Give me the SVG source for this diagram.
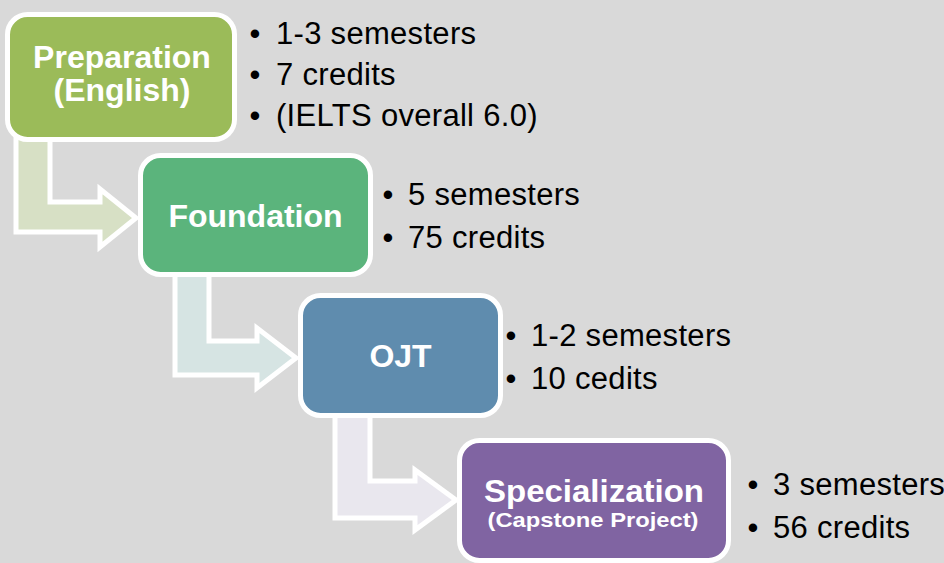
<svg xmlns="http://www.w3.org/2000/svg" width="944" height="563" viewBox="0 0 944 563">
<style>
.box{stroke:#ffffff;stroke-width:5}
.arr{stroke:#ffffff;stroke-width:5;stroke-linejoin:miter}
.t{font-family:"Liberation Sans",Arial,sans-serif;font-weight:bold;font-size:32px;fill:#ffffff;text-anchor:middle}
.s{font-family:"Liberation Sans",Arial,sans-serif;font-weight:bold;font-size:21px;fill:#ffffff;text-anchor:middle}
.b{font-family:"Liberation Sans",Arial,sans-serif;font-size:31px;fill:#000000;letter-spacing:0.3px}
.d{font-family:"Liberation Sans",Arial,sans-serif;font-size:31px;fill:#000000;text-anchor:middle}
</style>
<rect x="0" y="0" width="944" height="563" fill="#d9d9d9"/>
<g id="connectors">
<path class="arr" fill="#d7e0c5" d="M16,130 L50,130 L50,202 L100,202 L100,189 L136,218 L100,247 L100,232 L16,232 Z"/>
<path class="arr" fill="#d6e4e3" d="M175,270 L209,270 L209,341 L257,341 L257,328 L296,358 L257,388 L257,375 L175,375 Z"/>
<path class="arr" fill="#e9e7ee" d="M335,410 L370,410 L370,481 L415,481 L415,470 L456,500 L415,530 L415,518 L335,518 Z"/>
</g>
<g id="preparation">
<rect class="box" x="7.5" y="14.5" width="227" height="125" rx="20" fill="#9bbb59"/>
<text class="t" x="122" y="68">Preparation</text>
<text class="t" x="122" y="101">(English)</text>
</g>
<g id="foundation">
<rect class="box" x="140.5" y="155.5" width="230" height="119" rx="20" fill="#5bb47c"/>
<text class="t" x="255.5" y="227">Foundation</text>
</g>
<g id="ojt">
<rect class="box" x="300.5" y="295.5" width="200" height="120" rx="20" fill="#5f8cae"/>
<text class="t" x="400.5" y="367">OJT</text>
</g>
<g id="specialization">
<rect class="box" x="459.5" y="440.5" width="269" height="120" rx="20" fill="#8064a2"/>
<text class="t" x="594" y="502" textLength="220" lengthAdjust="spacingAndGlyphs">Specialization</text>
<text class="s" x="593" y="527" textLength="211" lengthAdjust="spacingAndGlyphs">(Capstone Project)</text>
</g>
<g id="notes-preparation">
<text class="d" x="255" y="44">•</text><text class="b" x="276" y="44">1-3 semesters</text>
<text class="d" x="255" y="85">•</text><text class="b" x="276" y="85">7 credits</text>
<text class="d" x="255" y="126">•</text><text class="b" x="276" y="126">(IELTS overall 6.0)</text>
</g>
<g id="notes-foundation">
<text class="d" x="388" y="205">•</text><text class="b" x="408" y="205">5 semesters</text>
<text class="d" x="388" y="248">•</text><text class="b" x="408" y="248">75 credits</text>
</g>
<g id="notes-ojt">
<text class="d" x="511" y="346">•</text><text class="b" x="531" y="346">1-2 semesters</text>
<text class="d" x="511" y="389">•</text><text class="b" x="531" y="389">10 cedits</text>
</g>
<g id="notes-specialization">
<text class="d" x="753" y="495">•</text><text class="b" x="773" y="495">3 semesters</text>
<text class="d" x="753" y="538">•</text><text class="b" x="773" y="538">56 credits</text>
</g>
</svg>
